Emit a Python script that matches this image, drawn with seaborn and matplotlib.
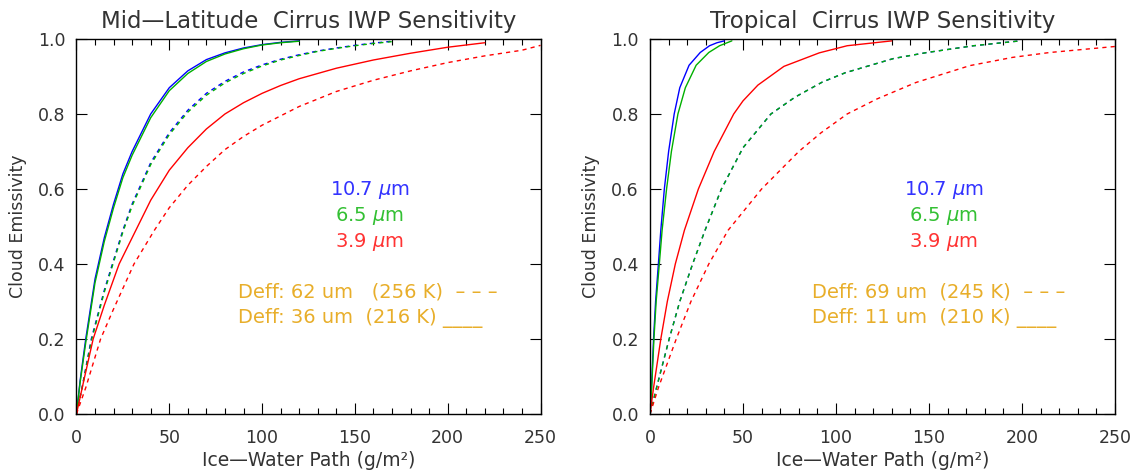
import matplotlib
matplotlib.use("Agg")
import matplotlib.pyplot as plt
from matplotlib.ticker import MultipleLocator, FormatStrFormatter
import pandas as pd
import seaborn as sns

# Mid-latitude panel: ice-water path (g/m2) and cloud emissivity per band / particle size
ml_iwp_blue_small = [0, 2, 5, 10, 15, 20, 25, 30, 40, 50, 60, 70, 80, 90, 100, 110, 120]
ml_emi_blue_small = [0, 0.09, 0.2, 0.36, 0.47, 0.56, 0.64, 0.70, 0.80, 0.87, 0.915, 0.945, 0.963, 0.976, 0.985, 0.991, 0.995]
ml_iwp_green_small = [0, 2, 5, 10, 15, 20, 25, 30, 40, 50, 60, 70, 80, 90, 100, 110, 120]
ml_emi_green_small = [0, 0.085, 0.19, 0.35, 0.46, 0.55, 0.63, 0.69, 0.79, 0.862, 0.908, 0.94, 0.96, 0.974, 0.984, 0.99, 0.994]
ml_iwp_red_small = [0, 4, 9, 15, 23, 32, 40, 50, 60, 70, 80, 90, 100, 110, 120, 140, 160, 180, 200, 220]
ml_emi_red_small = [0, 0.09, 0.2, 0.29, 0.4, 0.49, 0.57, 0.65, 0.71, 0.76, 0.80, 0.83, 0.855, 0.876, 0.894, 0.922, 0.944, 0.962, 0.978, 0.99]
ml_iwp_blue_large = [0, 3, 8, 15, 20, 25, 30, 40, 50, 60, 70, 80, 90, 100, 110, 120, 130, 140, 150, 160, 170]
ml_emi_blue_large = [0, 0.07, 0.2, 0.33, 0.41, 0.49, 0.56, 0.67, 0.75, 0.81, 0.855, 0.887, 0.912, 0.931, 0.946, 0.958, 0.968, 0.976, 0.983, 0.989, 0.994]
ml_iwp_green_large = [0, 3, 8, 15, 20, 25, 30, 40, 50, 60, 70, 80, 90, 100, 110, 120, 130, 140, 150, 160, 170]
ml_emi_green_large = [0, 0.068, 0.195, 0.325, 0.405, 0.485, 0.555, 0.665, 0.745, 0.805, 0.85, 0.883, 0.908, 0.928, 0.944, 0.956, 0.967, 0.975, 0.982, 0.988, 0.993]
ml_iwp_red_large = [0, 5, 13, 20, 31, 42, 50, 60, 70, 80, 90, 100, 120, 140, 160, 180, 200, 220, 240, 250]
ml_emi_red_large = [0, 0.07, 0.2, 0.28, 0.4, 0.49, 0.55, 0.61, 0.66, 0.705, 0.74, 0.77, 0.82, 0.86, 0.89, 0.915, 0.937, 0.955, 0.97, 0.983]

# Tropical panel
tr_iwp_blue_small = [0, 0.8, 1.9, 3, 4.5, 5.8, 7.7, 10, 13, 16, 21, 27, 32, 36, 40]
tr_emi_blue_small = [0, 0.07, 0.2, 0.3, 0.4, 0.49, 0.6, 0.7, 0.8, 0.87, 0.93, 0.964, 0.982, 0.99, 0.995]
tr_iwp_green_small = [0, 0.9, 2.1, 3.3, 5, 6.5, 8.9, 11.5, 15, 19, 24.8, 31.6, 37.4, 44]
tr_emi_green_small = [0, 0.07, 0.2, 0.3, 0.4, 0.49, 0.6, 0.7, 0.8, 0.87, 0.93, 0.964, 0.982, 0.995]
tr_iwp_red_small = [0, 1.9, 5.8, 9.3, 13.6, 18.5, 26, 34.5, 45, 50, 58, 72, 91, 106, 130]
tr_emi_red_small = [0, 0.07, 0.2, 0.3, 0.4, 0.49, 0.6, 0.7, 0.8, 0.835, 0.877, 0.927, 0.963, 0.982, 0.995]
tr_iwp_blue_large = [0, 3.5, 10.3, 16, 22.9, 29.6, 38.4, 50, 65, 78, 92.6, 105, 118, 131, 149, 174, 199]
tr_emi_blue_large = [0, 0.07, 0.2, 0.3, 0.4, 0.49, 0.6, 0.71, 0.8, 0.845, 0.885, 0.91, 0.929, 0.948, 0.964, 0.982, 0.995]
tr_iwp_green_large = [0, 3.5, 10.3, 16, 22.9, 29.6, 38.4, 50, 65, 78, 92.6, 105, 118, 131, 149, 174, 199]
tr_emi_green_large = [0, 0.07, 0.2, 0.3, 0.4, 0.49, 0.6, 0.71, 0.8, 0.845, 0.885, 0.91, 0.929, 0.948, 0.964, 0.982, 0.995]
tr_iwp_red_large = [0, 4.5, 14.1, 22, 31.6, 42, 60, 80, 92, 106, 122, 143, 172, 195, 215, 250]
tr_emi_red_large = [0, 0.07, 0.2, 0.3, 0.4, 0.49, 0.6, 0.7, 0.75, 0.8, 0.84, 0.884, 0.929, 0.951, 0.964, 0.98]

bands = ["10.7", "6.5", "3.9"]
titles = ["Mid\u2014Latitude  Cirrus IWP Sensitivity", "Tropical  Cirrus IWP Sensitivity"]
deff_labels = [
    ["Deff: 62 um   (256 K)  \u2013 \u2013 \u2013", "Deff: 36 um  (216 K) ____"],
    ["Deff: 69 um  (245 K)  \u2013 \u2013 \u2013", "Deff: 11 um  (210 K) ____"],
]

band_colors = {"10.7": "#0000ff", "6.5": "#00b000", "3.9": "#ff0000"}
text_colors = {"10.7": "#3333ff", "6.5": "#33c033", "3.9": "#ff3333"}
orange = "#e8ae2a"
gray = "#333333"


def make_df(curves):
    rows = []
    for band, size, iwp, emi in curves:
        for x, y in zip(iwp, emi):
            rows.append({"band": band, "size": size, "iwp": x, "emis": y})
    return pd.DataFrame(rows)


ml = make_df([
    ("10.7", "small", ml_iwp_blue_small, ml_emi_blue_small),
    ("6.5", "small", ml_iwp_green_small, ml_emi_green_small),
    ("10.7", "large", ml_iwp_blue_large, ml_emi_blue_large),
    ("6.5", "large", ml_iwp_green_large, ml_emi_green_large),
    ("3.9", "small", ml_iwp_red_small, ml_emi_red_small),
    ("3.9", "large", ml_iwp_red_large, ml_emi_red_large),
])
tr = make_df([
    ("10.7", "small", tr_iwp_blue_small, tr_emi_blue_small),
    ("6.5", "small", tr_iwp_green_small, tr_emi_green_small),
    ("10.7", "large", tr_iwp_blue_large, tr_emi_blue_large),
    ("6.5", "large", tr_iwp_green_large, tr_emi_green_large),
    ("3.9", "small", tr_iwp_red_small, tr_emi_red_small),
    ("3.9", "large", tr_iwp_red_large, tr_emi_red_large),
])

sns.set_theme(style="ticks")
plt.rcParams["font.family"] = ["DejaVu Sans"]
plt.rcParams["mathtext.fontset"] = "dejavusans"

fig = plt.figure(figsize=(11.36, 4.76), dpi=100)
axes = [fig.add_axes([0.0673, 0.1303, 0.4085, 0.7878]),
        fig.add_axes([0.5722, 0.1303, 0.4093, 0.7878])]

for i, (ax, df) in enumerate(zip(axes, [ml, tr])):
    sns.lineplot(data=df, x="iwp", y="emis", hue="band", style="size",
                 palette=band_colors, dashes={"small": "", "large": (3, 3)},
                 units="band", estimator=None, sort=False, linewidth=1.0,
                 legend=False, ax=ax)
    ax.set_xlim(0, 250)
    ax.set_ylim(0, 1.0)
    ax.xaxis.set_major_locator(MultipleLocator(50))
    ax.xaxis.set_minor_locator(MultipleLocator(10))
    ax.yaxis.set_major_locator(MultipleLocator(0.2))
    ax.yaxis.set_major_formatter(FormatStrFormatter("%.1f"))
    ax.tick_params(which="both", direction="in", top=True, right=True,
                   labelsize=12.5, labelcolor=gray, color="black", width=0.8)
    ax.tick_params(which="major", length=8)
    ax.tick_params(axis="x", which="major", pad=11)
    ax.tick_params(axis="y", which="major", pad=8)
    ax.tick_params(which="minor", length=4)
    ax.tick_params(axis="y", which="minor", left=False, right=False)
    for sp in ax.spines.values():
        sp.set_linewidth(1.0)
        sp.set_color("black")
    ax.set_xlabel("Ice\u2014Water Path (g/m\u00b2)", fontsize=13.5, color=gray, labelpad=3)
    ax.set_ylabel("Cloud Emissivity", fontsize=12.5, color=gray, labelpad=8)
    ax.set_title(titles[i], fontsize=16.5, color=gray, pad=8)

    for j, b in enumerate(bands):
        ax.text(158, 0.597 - j * 0.069, b + r" $\mu$m", color=text_colors[b],
                fontsize=14, ha="center", va="center")
    ax.text(87, 0.325, deff_labels[i][0], color=orange, fontsize=14, va="center")
    ax.text(87, 0.256, deff_labels[i][1], color=orange, fontsize=14, va="center")

fig.savefig("out.png", dpi=100)
